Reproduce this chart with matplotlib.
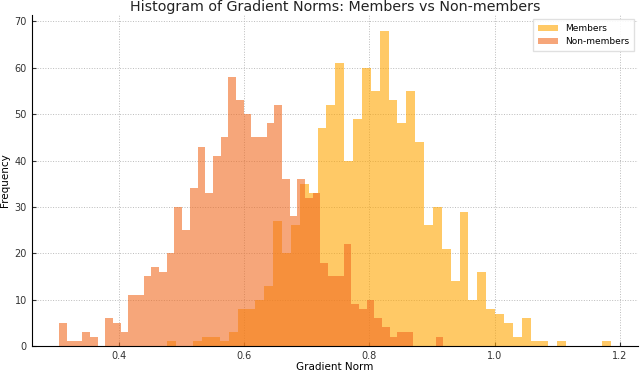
import matplotlib
matplotlib.use("Agg")
import matplotlib.pyplot as plt
import numpy as np

# counts per bin (50 bins each, 1000 samples each)
members_range = (0.4764, 1.1847)
members_counts = [1, 0, 0, 1, 2, 2, 1, 3, 8, 8,
                  10, 13, 27, 20, 26, 35, 33, 47, 52, 61,
                  40, 49, 60, 55, 68, 53, 48, 55, 44, 26,
                  30, 21, 14, 29, 10, 16, 8, 7, 5, 2,
                  6, 1, 1, 0, 1, 0, 0, 0, 0, 1]

nonmembers_range = (0.305, 0.918)
nonmembers_counts = [5, 1, 1, 3, 2, 0, 6, 5, 3, 11,
                     11, 15, 17, 16, 20, 30, 25, 34, 43, 33,
                     41, 45, 58, 53, 50, 45, 45, 48, 52, 36,
                     28, 36, 32, 33, 18, 15, 15, 22, 9, 8,
                     10, 6, 4, 2, 3, 3, 0, 0, 0, 2]

n_bins = 50
members_edges = np.linspace(*members_range, n_bins + 1)
nonmembers_edges = np.linspace(*nonmembers_range, n_bins + 1)

fig = plt.figure(figsize=(6.4, 3.72), dpi=100)
ax = fig.add_axes([0.0495, 0.0699, 0.9475, 0.89])

ax.hist(members_edges[:-1], bins=members_edges, weights=members_counts,
        color="orange", alpha=0.6, label="Members")
ax.hist(nonmembers_edges[:-1], bins=nonmembers_edges, weights=nonmembers_counts,
        color="#F06B21", alpha=0.6, label="Non-members")

ax.set_title("Histogram of Gradient Norms: Members vs Non-members",
             fontsize=10.3, color="#222222", pad=3)
ax.set_xlabel("Gradient Norm", fontsize=7.5, labelpad=0.5)
ax.set_ylabel("Frequency", fontsize=7.5, labelpad=3)

ax.set_xticks([0.4, 0.6, 0.8, 1.0, 1.2])
ax.set_yticks(range(0, 71, 10))
ax.tick_params(direction="in", labelsize=7, length=3, colors="#333333")
ax.grid(True, linestyle=":", color="#bbbbbb", linewidth=0.7)
ax.set_axisbelow(True)

for side in ["top", "right"]:
    ax.spines[side].set_visible(False)

ax.legend(loc="upper right", fontsize=6.5, fancybox=False, framealpha=0.9,
          edgecolor="#dddddd", handlelength=2.2, borderpad=0.5)

fig.savefig("out.png", dpi=100)
